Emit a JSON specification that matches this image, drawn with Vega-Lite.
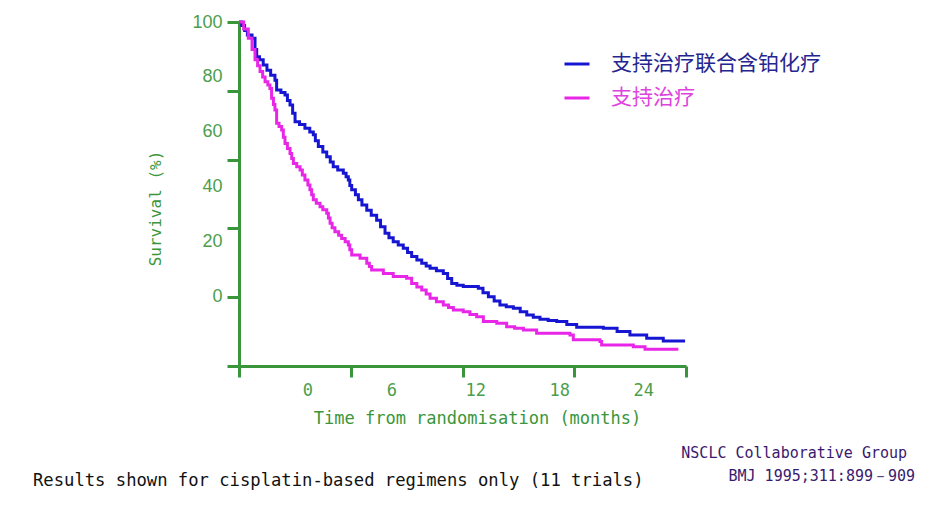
{
  "$schema": "https://vega.github.io/schema/vega-lite/v6.json",
  "width": 447,
  "height": 344,
  "autosize": {"type": "none"},
  "padding": {"left": 239, "top": 22, "right": 241, "bottom": 151},
  "background": "white",
  "config": {"view": {"stroke": null}},
  "title": {
    "text": "Results shown for cisplatin-based regimens only (11 trials)",
    "orient": "bottom",
    "anchor": "start",
    "frame": "group",
    "dx": -206,
    "offset": -12,
    "font": "DejaVu Sans Mono",
    "fontSize": 17.2,
    "fontWeight": "normal",
    "color": "#111111"
  },
  "datasets": {
    "km": [
      {"group": "支持治疗联合含铂化疗", "t": 0, "s": 100},
      {"group": "支持治疗联合含铂化疗", "t": 0.15, "s": 99},
      {"group": "支持治疗联合含铂化疗", "t": 0.3, "s": 97.5},
      {"group": "支持治疗联合含铂化疗", "t": 0.45, "s": 96.2},
      {"group": "支持治疗联合含铂化疗", "t": 0.7, "s": 95.3},
      {"group": "支持治疗联合含铂化疗", "t": 0.86, "s": 92},
      {"group": "支持治疗联合含铂化疗", "t": 0.95, "s": 89.9},
      {"group": "支持治疗联合含铂化疗", "t": 1.1, "s": 89},
      {"group": "支持治疗联合含铂化疗", "t": 1.3, "s": 87.5},
      {"group": "支持治疗联合含铂化疗", "t": 1.5, "s": 86},
      {"group": "支持治疗联合含铂化疗", "t": 1.7, "s": 84.5},
      {"group": "支持治疗联合含铂化疗", "t": 1.93, "s": 83.1},
      {"group": "支持治疗联合含铂化疗", "t": 2.02, "s": 80.2},
      {"group": "支持治疗联合含铂化疗", "t": 2.25, "s": 79.5},
      {"group": "支持治疗联合含铂化疗", "t": 2.47, "s": 78.8},
      {"group": "支持治疗联合含铂化疗", "t": 2.6, "s": 77.2},
      {"group": "支持治疗联合含铂化疗", "t": 2.74, "s": 75.9},
      {"group": "支持治疗联合含铂化疗", "t": 2.88, "s": 73.5},
      {"group": "支持治疗联合含铂化疗", "t": 3.01, "s": 71},
      {"group": "支持治疗联合含铂化疗", "t": 3.25, "s": 70.2},
      {"group": "支持治疗联合含铂化疗", "t": 3.54, "s": 69.1},
      {"group": "支持治疗联合含铂化疗", "t": 3.8, "s": 68},
      {"group": "支持治疗联合含铂化疗", "t": 3.99, "s": 67.2},
      {"group": "支持治疗联合含铂化疗", "t": 4.1, "s": 65.5},
      {"group": "支持治疗联合含铂化疗", "t": 4.26, "s": 63.8},
      {"group": "支持治疗联合含铂化疗", "t": 4.5, "s": 62.2},
      {"group": "支持治疗联合含铂化疗", "t": 4.71, "s": 60.8},
      {"group": "支持治疗联合含铂化疗", "t": 4.9, "s": 59.3},
      {"group": "支持治疗联合含铂化疗", "t": 5.06, "s": 57.9},
      {"group": "支持治疗联合含铂化疗", "t": 5.3, "s": 57},
      {"group": "支持治疗联合含铂化疗", "t": 5.6, "s": 56},
      {"group": "支持治疗联合含铂化疗", "t": 5.75, "s": 55},
      {"group": "支持治疗联合含铂化疗", "t": 5.87, "s": 54.1},
      {"group": "支持治疗联合含铂化疗", "t": 5.95, "s": 52.5},
      {"group": "支持治疗联合含铂化疗", "t": 6.05, "s": 51.2},
      {"group": "支持治疗联合含铂化疗", "t": 6.25, "s": 49.8},
      {"group": "支持治疗联合含铂化疗", "t": 6.41, "s": 48.3},
      {"group": "支持治疗联合含铂化疗", "t": 6.6, "s": 46.8},
      {"group": "支持治疗联合含铂化疗", "t": 6.86, "s": 45.3},
      {"group": "支持治疗联合含铂化疗", "t": 7.1, "s": 43.8},
      {"group": "支持治疗联合含铂化疗", "t": 7.39, "s": 42.4},
      {"group": "支持治疗联合含铂化疗", "t": 7.6, "s": 40.5},
      {"group": "支持治疗联合含铂化疗", "t": 7.84, "s": 38.6},
      {"group": "支持治疗联合含铂化疗", "t": 8.05, "s": 37.3},
      {"group": "支持治疗联合含铂化疗", "t": 8.28, "s": 36.1},
      {"group": "支持治疗联合含铂化疗", "t": 8.55, "s": 35.2},
      {"group": "支持治疗联合含铂化疗", "t": 8.82, "s": 34.2},
      {"group": "支持治疗联合含铂化疗", "t": 9.05, "s": 33},
      {"group": "支持治疗联合含铂化疗", "t": 9.27, "s": 31.8},
      {"group": "支持治疗联合含铂化疗", "t": 9.55, "s": 30.8},
      {"group": "支持治疗联合含铂化疗", "t": 9.81, "s": 29.9},
      {"group": "支持治疗联合含铂化疗", "t": 10.05, "s": 29.1},
      {"group": "支持治疗联合含铂化疗", "t": 10.26, "s": 28.4},
      {"group": "支持治疗联合含铂化疗", "t": 10.6, "s": 27.7},
      {"group": "支持治疗联合含铂化疗", "t": 10.97, "s": 26.9},
      {"group": "支持治疗联合含铂化疗", "t": 11.2, "s": 25.4},
      {"group": "支持治疗联合含铂化疗", "t": 11.42, "s": 24},
      {"group": "支持治疗联合含铂化疗", "t": 11.7, "s": 23.5},
      {"group": "支持治疗联合含铂化疗", "t": 12.04, "s": 23.1},
      {"group": "支持治疗联合含铂化疗", "t": 12.85, "s": 22.6},
      {"group": "支持治疗联合含铂化疗", "t": 13.1, "s": 21.3},
      {"group": "支持治疗联合含铂化疗", "t": 13.39, "s": 20.1},
      {"group": "支持治疗联合含铂化疗", "t": 13.7, "s": 18.9},
      {"group": "支持治疗联合含铂化疗", "t": 14.01, "s": 17.7},
      {"group": "支持治疗联合含铂化疗", "t": 14.35, "s": 17.2},
      {"group": "支持治疗联合含铂化疗", "t": 14.73, "s": 16.8},
      {"group": "支持治疗联合含铂化疗", "t": 15.1, "s": 15.8},
      {"group": "支持治疗联合含铂化疗", "t": 15.45, "s": 14.8},
      {"group": "支持治疗联合含铂化疗", "t": 15.8, "s": 14.2},
      {"group": "支持治疗联合含铂化疗", "t": 16.16, "s": 13.6},
      {"group": "支持治疗联合含铂化疗", "t": 16.6, "s": 13.2},
      {"group": "支持治疗联合含铂化疗", "t": 17.06, "s": 12.9},
      {"group": "支持治疗联合含铂化疗", "t": 17.6, "s": 12.1},
      {"group": "支持治疗联合含铂化疗", "t": 18.13, "s": 11.3},
      {"group": "支持治疗联合含铂化疗", "t": 19.56, "s": 11},
      {"group": "支持治疗联合含铂化疗", "t": 20.3, "s": 10},
      {"group": "支持治疗联合含铂化疗", "t": 20.99, "s": 9},
      {"group": "支持治疗联合含铂化疗", "t": 21.89, "s": 8.1},
      {"group": "支持治疗联合含铂化疗", "t": 22.78, "s": 7.3},
      {"group": "支持治疗联合含铂化疗", "t": 23.95, "s": 7.3},
      {"group": "支持治疗", "t": 0, "s": 100},
      {"group": "支持治疗", "t": 0.25, "s": 98},
      {"group": "支持治疗", "t": 0.5, "s": 95.3},
      {"group": "支持治疗", "t": 0.7, "s": 92},
      {"group": "支持治疗", "t": 0.86, "s": 89},
      {"group": "支持治疗", "t": 1.0, "s": 87.3},
      {"group": "支持治疗", "t": 1.13, "s": 85.6},
      {"group": "支持治疗", "t": 1.27, "s": 84},
      {"group": "支持治疗", "t": 1.4, "s": 82.6},
      {"group": "支持治疗", "t": 1.55, "s": 81.7},
      {"group": "支持治疗", "t": 1.66, "s": 80.7},
      {"group": "支持治疗", "t": 1.75, "s": 77.8},
      {"group": "支持治疗", "t": 1.85, "s": 76},
      {"group": "支持治疗", "t": 1.93, "s": 74.4},
      {"group": "支持治疗", "t": 2.02, "s": 70.6},
      {"group": "支持治疗", "t": 2.15, "s": 69.6},
      {"group": "支持治疗", "t": 2.29, "s": 68.6},
      {"group": "支持治疗", "t": 2.38, "s": 66.5},
      {"group": "支持治疗", "t": 2.47, "s": 64.7},
      {"group": "支持治疗", "t": 2.6, "s": 63.2},
      {"group": "支持治疗", "t": 2.74, "s": 61.8},
      {"group": "支持治疗", "t": 2.83, "s": 60.3},
      {"group": "支持治疗", "t": 2.92, "s": 58.9},
      {"group": "支持治疗", "t": 3.1, "s": 57.9},
      {"group": "支持治疗", "t": 3.28, "s": 57},
      {"group": "支持治疗", "t": 3.4, "s": 55.5},
      {"group": "支持治疗", "t": 3.54, "s": 54.1},
      {"group": "支持治疗", "t": 3.7, "s": 52.6},
      {"group": "支持治疗", "t": 3.81, "s": 51.2},
      {"group": "支持治疗", "t": 3.9, "s": 49.8},
      {"group": "支持治疗", "t": 3.99, "s": 48.3},
      {"group": "支持治疗", "t": 4.15, "s": 47.3},
      {"group": "支持治疗", "t": 4.35, "s": 46.3},
      {"group": "支持治疗", "t": 4.5, "s": 45.4},
      {"group": "支持治疗", "t": 4.71, "s": 44.4},
      {"group": "支持治疗", "t": 4.8, "s": 43},
      {"group": "支持治疗", "t": 4.89, "s": 41.5},
      {"group": "支持治疗", "t": 5.0, "s": 40.2},
      {"group": "支持治疗", "t": 5.15, "s": 39},
      {"group": "支持治疗", "t": 5.35, "s": 38},
      {"group": "支持治疗", "t": 5.51, "s": 37.1},
      {"group": "支持治疗", "t": 5.7, "s": 36.1},
      {"group": "支持治疗", "t": 5.87, "s": 35.2},
      {"group": "支持治疗", "t": 5.95, "s": 33.8},
      {"group": "支持治疗", "t": 6.05, "s": 32.3},
      {"group": "支持治疗", "t": 6.5, "s": 31.3},
      {"group": "支持治疗", "t": 6.86, "s": 29.9},
      {"group": "支持治疗", "t": 7.0, "s": 28.9},
      {"group": "支持治疗", "t": 7.12, "s": 27.9},
      {"group": "支持治疗", "t": 7.75, "s": 26.9},
      {"group": "支持治疗", "t": 8.28, "s": 26},
      {"group": "支持治疗", "t": 9.0, "s": 25.5},
      {"group": "支持治疗", "t": 9.27, "s": 24},
      {"group": "支持治疗", "t": 9.55, "s": 23},
      {"group": "支持治疗", "t": 9.81, "s": 22.1},
      {"group": "支持治疗", "t": 10.05, "s": 20.9},
      {"group": "支持治疗", "t": 10.26, "s": 19.7},
      {"group": "支持治疗", "t": 10.6, "s": 18.7},
      {"group": "支持治疗", "t": 10.97, "s": 17.7},
      {"group": "支持治疗", "t": 11.25, "s": 17},
      {"group": "支持治疗", "t": 11.51, "s": 16.3},
      {"group": "支持治疗", "t": 12.04, "s": 15.8},
      {"group": "支持治疗", "t": 12.4, "s": 15},
      {"group": "支持治疗", "t": 12.76, "s": 14.3},
      {"group": "支持治疗", "t": 13.12, "s": 12.9},
      {"group": "支持治疗", "t": 13.84, "s": 12.4},
      {"group": "支持治疗", "t": 14.37, "s": 11.4},
      {"group": "支持治疗", "t": 14.8, "s": 11},
      {"group": "支持治疗", "t": 15.27, "s": 10.5},
      {"group": "支持治疗", "t": 15.98, "s": 9.5},
      {"group": "支持治疗", "t": 17.77, "s": 9},
      {"group": "支持治疗", "t": 17.95, "s": 7.6},
      {"group": "支持治疗", "t": 19.38, "s": 7.1},
      {"group": "支持治疗", "t": 19.47, "s": 6.1},
      {"group": "支持治疗", "t": 21.17, "s": 5.6},
      {"group": "支持治疗", "t": 21.8, "s": 4.9},
      {"group": "支持治疗", "t": 23.59, "s": 4.9}
    ]
  },
  "layer": [
    {
      "layer": [
        {
          "data": {"name": "km"},
          "mark": {"type": "line", "interpolate": "step-after", "strokeWidth": 3},
          "encoding": {
            "x": {
              "field": "t", "type": "quantitative",
              "scale": {"domain": [0, 24], "nice": false, "zero": false},
              "axis": {
                "orient": "bottom", "values": [0, 6, 12, 18, 24], "labels": false, "title": null,
                "grid": false, "tickSize": 11, "tickWidth": 3, "tickColor": "#3a963a",
                "domainColor": "#3a963a", "domainWidth": 3
              }
            },
            "y": {
              "field": "s", "type": "quantitative",
              "scale": {"domain": [0, 100], "nice": false, "zero": false},
              "axis": {
                "orient": "left", "values": [0, 20, 40, 60, 80, 100], "labels": false, "title": null,
                "grid": false, "tickSize": 12, "tickWidth": 3, "tickColor": "#3a963a",
                "domainColor": "#3a963a", "domainWidth": 3
              }
            },
            "color": {
              "field": "group", "type": "nominal",
              "scale": {"domain": ["支持治疗联合含铂化疗", "支持治疗"], "range": ["#1616d2", "#e826e8"]},
              "legend": {
                "title": null,
                "orient": "none",
                "legendX": 324,
                "legendY": 28,
                "padding": 0,
                "symbolType": "stroke",
                "symbolSize": 625,
                "symbolStrokeWidth": 3,
                "labelFont": "Noto Sans CJK SC",
                "labelFontSize": 21,
                "labelOffset": 20,
                "labelLimit": 400,
                "rowPadding": 10,
                "encode": {
                  "symbols": {"update": {"stroke": {"signal": "datum.label == '支持治疗' ? '#cc33cc' : '#1a1aa0'"}}},
                  "labels": {"update": {"fill": {"signal": "datum.label == '支持治疗' ? '#dd44dd' : '#25258f'"}}}
                }
              }
            }
          }
        },
        {
          "data": {"values": [{}]},
          "mark": {"type": "text", "align": "right", "baseline": "middle", "font": "DejaVu Sans Mono", "fontSize": 15, "color": "#3a1a6e"},
          "encoding": {
            "x": {"datum": 35.87, "type": "quantitative"},
            "y": {"datum": -25.3, "type": "quantitative"},
            "text": {"value": "NSCLC Collaborative Group"}
          }
        },
        {
          "data": {"values": [{}]},
          "mark": {"type": "text", "align": "right", "baseline": "middle", "font": "DejaVu Sans Mono", "fontSize": 15, "color": "#3a1a6e"},
          "encoding": {
            "x": {"datum": 36.3, "type": "quantitative"},
            "y": {"datum": -32.0, "type": "quantitative"},
            "text": {"value": "BMJ 1995;311:899－909"}
          }
        }
      ]
    },
    {
      "data": {"name": "km"},
      "mark": {"type": "point", "opacity": 0},
      "encoding": {
        "x": {
          "field": "t", "type": "quantitative",
          "scale": {"domain": [-4.88, 27.05], "nice": false, "zero": false},
          "axis": {
            "orient": "bottom", "values": [0, 6, 12, 18, 24], "ticks": false, "domain": false, "grid": false,
            "labelPadding": 16, "labelFont": "DejaVu Sans Mono", "labelFontSize": 17, "labelColor": "#4c9e4c",
            "title": "Time from randomisation (months)", "titleFont": "DejaVu Sans Mono", "titleFontSize": 17,
            "titleFontWeight": "normal", "titleColor": "#3a963a", "titleX": 238, "titleY": 52, "titleBaseline": "middle"
          }
        },
        "y": {
          "field": "s", "type": "quantitative",
          "scale": {"domain": [-25.2, 100], "nice": false, "zero": false},
          "axis": {
            "orient": "left", "values": [0, 20, 40, 60, 80, 100], "ticks": false, "domain": false, "grid": false,
            "labelPadding": 17, "labelFont": "Liberation Sans", "labelFontSize": 18, "labelColor": "#4c9e4c",
            "title": "Survival (%)", "titleFont": "DejaVu Sans Mono", "titleFontSize": 16,
            "titleFontWeight": "normal", "titleColor": "#3a963a", "titleX": -84, "titleY": 186, "titleBaseline": "middle"
          }
        }
      }
    }
  ],
  "resolve": {"scale": {"x": "independent", "y": "independent", "color": "independent"}}
}
